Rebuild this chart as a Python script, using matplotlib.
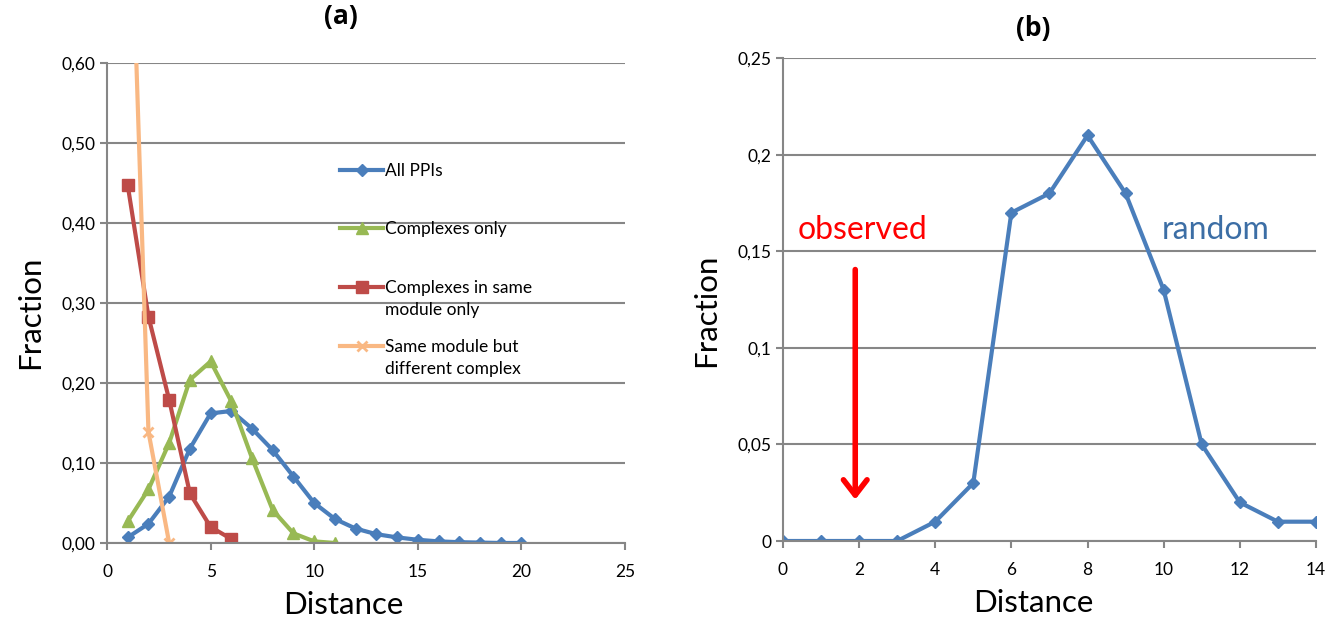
import matplotlib.pyplot as plt
from matplotlib.lines import Line2D

plt.rcParams['font.family'] = ['Lato', 'DejaVu Sans']

# panel (a)
dist_a = list(range(1, 21))
all_ppis = [0.007, 0.024, 0.058, 0.118, 0.162, 0.165, 0.143, 0.116, 0.083, 0.050,
            0.030, 0.018, 0.011, 0.007, 0.004, 0.002, 0.001, 0.0005, 0.0, 0.0]
complexes = [0.027, 0.067, 0.125, 0.204, 0.227, 0.177, 0.106, 0.041, 0.012, 0.002, 0.0]
same_module = [0.447, 0.283, 0.179, 0.062, 0.020, 0.005]
diff_complex = [0.93, 0.139, 0.0]
labels_a = ['All PPIs', 'Complexes only', 'Complexes in same\nmodule only',
            'Same module but\ndifferent complex']
yticks_a = ['0,00', '0,10', '0,20', '0,30', '0,40', '0,50', '0,60']

# panel (b)
dist_b = list(range(0, 15))
random_frac = [0, 0, 0, 0, 0.01, 0.03, 0.17, 0.18, 0.21, 0.18, 0.13, 0.05, 0.02, 0.01, 0.01]
yticks_b = ['0', '0,05', '0,1', '0,15', '0,2', '0,25']

blue = '#4A7EBB'
green = '#98B954'
red = '#BE4B48'
orange = '#F9B883'
grid = '#868686'

fig = plt.figure(figsize=(13.36, 6.19), dpi=100)
ax1 = fig.add_axes([0.0801, 0.1228, 0.3877, 0.7754])
ax2 = fig.add_axes([0.586, 0.126, 0.399, 0.780])


def style(ax, cx, cy):
    for s in ['top', 'right']:
        ax.spines[s].set_visible(False)
    for s in ['left', 'bottom']:
        ax.spines[s].set_color(grid)
        ax.spines[s].set_linewidth(1.5)
    ax.yaxis.grid(True, color=grid, linewidth=1.5)
    ax.set_axisbelow(True)
    ax.tick_params(colors=grid, labelcolor='black', labelsize=12.5, width=1.5, length=5)
    ax.tick_params(axis='x', pad=10)
    ax.set_xlabel('Distance', fontsize=22.5, labelpad=8, x=cx)
    ax.set_ylabel('Fraction', fontsize=22.5, labelpad=12, y=cy)


title_font = dict(fontsize=19, fontweight='bold', family=['Open Sans', 'DejaVu Sans'])

style(ax1, 0.456, 0.481)
lines = []
lines.append(ax1.plot(dist_a, all_ppis, color=blue, lw=3, marker='D', ms=6.5)[0])
lines.append(ax1.plot(dist_a[:len(complexes)], complexes, color=green, lw=3, marker='^', ms=9)[0])
lines.append(ax1.plot(dist_a[:len(same_module)], same_module, color=red, lw=3, marker='s', ms=9)[0])
lines.append(ax1.plot(dist_a[:len(diff_complex)], diff_complex, color=orange, lw=3, marker='x',
                      ms=7, mew=2)[0])
ax1.set_xlim(0, 25)
ax1.set_ylim(0, 0.6)
ax1.set_xticks([0, 5, 10, 15, 20, 25])
ax1.set_yticks([i / 10 for i in range(7)])
ax1.set_yticklabels(yticks_a)
ax1.set_title('(a)', pad=28, x=0.452, **title_font)

# legend drawn by hand so each handle sits on the first line of its label (Excel style)
leg_rows = [0.777, 0.656, 0.533, 0.410]
for ln, lab, yr in zip(lines, labels_a, leg_rows):
    h = Line2D([0.450, 0.533], [yr, yr], transform=ax1.transAxes, color=ln.get_color(),
               lw=ln.get_linewidth(), clip_on=False)
    ax1.add_line(h)
    ax1.plot([0.4915], [yr], transform=ax1.transAxes, color=ln.get_color(),
             marker=ln.get_marker(), ms=ln.get_markersize(), mew=ln.get_markeredgewidth(),
             clip_on=False)
    ax1.text(0.537, yr + 0.015, lab, transform=ax1.transAxes, fontsize=12.5, va='top',
             ha='left', linespacing=1.45)

style(ax2, 0.469, 0.478)
ax2.plot(dist_b, random_frac, color=blue, lw=3, marker='D', ms=6.5)
ax2.set_xlim(0, 14)
ax2.set_ylim(0, 0.25)
ax2.set_xticks(range(0, 15, 2))
ax2.set_yticks([0, 0.05, 0.1, 0.15, 0.2, 0.25])
ax2.set_yticklabels(yticks_b)
ax2.set_title('(b)', pad=16, x=0.469, **title_font)
ax2.text(0.38, 0.161, 'observed', color='#FF0000', fontsize=23, va='center')
ax2.text(9.95, 0.161, 'random', color='#3C6EA5', fontsize=23, va='center')
ax2.annotate('', xy=(1.9, 0.02), xytext=(1.9, 0.142),
             arrowprops=dict(arrowstyle='->,head_length=1.1,head_width=0.85', color='#FF0000', lw=4))

fig.savefig('out.png', dpi=100)
